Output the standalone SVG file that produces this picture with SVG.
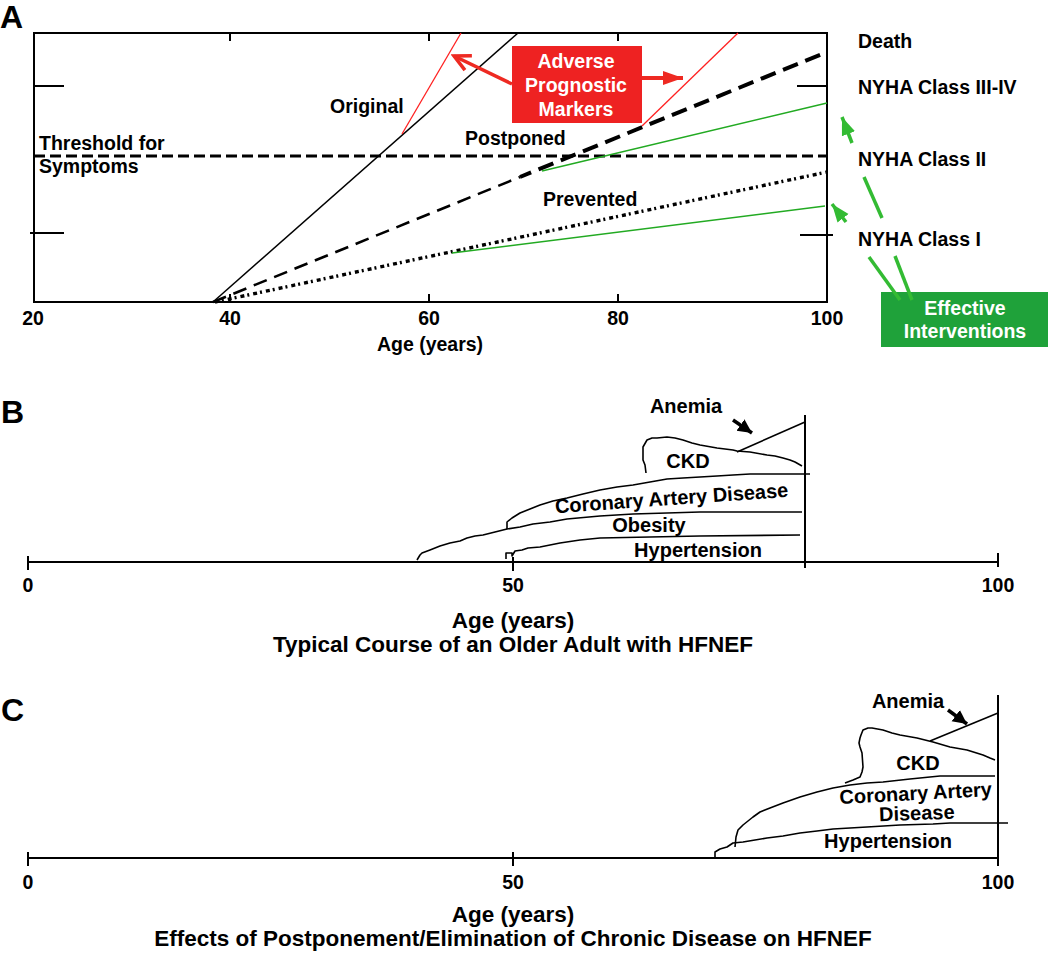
<svg xmlns="http://www.w3.org/2000/svg" width="1050" height="953" viewBox="0 0 1050 953">
<style>
text{font-family:"Liberation Sans",Arial,sans-serif;font-weight:bold;fill:#000}
.panel{font-size:32px}
.la{font-size:19.5px}
.lb{font-size:20px}
.cap{font-size:22.5px}
.num{font-size:19.5px}
.w{fill:#fff}
.ax{stroke:#000;stroke-width:2;fill:none}
.thin{stroke:#000;stroke-width:1.5;fill:none}
.red{stroke:#ff2020;stroke-width:1.3;fill:none}
.grn{stroke:#22aa22;stroke-width:1.5;fill:none}
.garr{stroke:#33bb33;stroke-width:3.5;fill:none}
.curve{stroke:#000;stroke-width:1.6;fill:none;stroke-linejoin:round}
</style>
<defs>
<marker id="gh" markerUnits="userSpaceOnUse" markerWidth="20" markerHeight="20" viewBox="0 0 20 20" refX="18" refY="10" orient="auto"><path d="M0,3 L18,10 L0,17 Z" fill="#33bb33"/></marker>
<marker id="rh" markerUnits="userSpaceOnUse" markerWidth="22" markerHeight="22" viewBox="0 0 22 22" refX="20" refY="11" orient="auto"><path d="M0,4 L20,11 L0,18 Z" fill="#ee2a22"/></marker>
<marker id="rv" markerUnits="userSpaceOnUse" markerWidth="22" markerHeight="22" viewBox="0 0 22 22" refX="19" refY="11" orient="auto"><path d="M3,3 L19,11 L3,19" fill="none" stroke="#ee2a22" stroke-width="3.5"/></marker>
<marker id="bh" markerUnits="userSpaceOnUse" markerWidth="16" markerHeight="16" viewBox="0 0 16 16" refX="14" refY="8" orient="auto"><path d="M0,1 L14,8 L0,15 Z" fill="#000"/></marker>
</defs>

<!-- Panel A -->
<g id="panelA">
<text class="panel" x="0" y="28">A</text>
<rect class="ax" x="34" y="33" width="793" height="269"/>
<g class="ax">
<line x1="230" y1="33" x2="230" y2="41"/>
<line x1="429" y1="33" x2="429" y2="41"/>
<line x1="618" y1="33" x2="618" y2="41"/>
<line x1="230" y1="294" x2="230" y2="302"/>
<line x1="429" y1="294" x2="429" y2="302"/>
<line x1="618" y1="294" x2="618" y2="302"/>
<line x1="34" y1="86" x2="64" y2="86"/>
<line x1="30" y1="233" x2="64" y2="233"/>
<line x1="797" y1="86" x2="827" y2="86"/>
<line x1="800" y1="235" x2="833" y2="235"/>
</g>
<g text-anchor="middle">
<text class="num" x="33" y="325">20</text>
<text class="num" x="230" y="325">40</text>
<text class="num" x="429" y="325">60</text>
<text class="num" x="618" y="325">80</text>
<text class="num" x="827" y="325">100</text>
</g>
<text class="la" x="430" y="351" text-anchor="middle">Age (years)</text>
</g>

<g id="curvesA">
<line x1="34" y1="156" x2="827" y2="156" stroke="#000" stroke-width="2.8" stroke-dasharray="11,5"/>
<line x1="213" y1="302" x2="518" y2="33" class="thin" stroke-width="1.3"/>
<line x1="402" y1="134" x2="461" y2="33" class="red"/>
<line x1="213" y1="302" x2="520" y2="177" stroke="#000" stroke-width="2.6" stroke-dasharray="14,8"/>
<line x1="520" y1="177" x2="827" y2="52" stroke="#000" stroke-width="4" stroke-dasharray="16,8" stroke-dashoffset="4"/>
<line x1="642" y1="126" x2="738" y2="33" class="red"/>
<line x1="542" y1="171" x2="827" y2="103" class="grn"/>
<line x1="215" y1="302" x2="827" y2="172" stroke="#000" stroke-width="3.4" stroke-dasharray="4,3,2,4"/>
<line x1="452" y1="253" x2="825" y2="206" class="grn"/>
</g>

<g id="labelsA">
<text class="la" x="39" y="150">Threshold for</text>
<text class="la" x="39" y="173">Symptoms</text>
<text class="la" x="330" y="113">Original</text>
<text class="la" x="465" y="145">Postponed</text>
<text class="la" x="543" y="206">Prevented</text>
<text class="la" x="858" y="48">Death</text>
<text class="la" x="858" y="94">NYHA Class III-IV</text>
<text class="la" x="858" y="166">NYHA Class II</text>
<text class="la" x="858" y="246">NYHA Class I</text>
</g>

<g id="adverse">
<rect x="512" y="46" width="130" height="77" fill="#ee2222"/>
<text class="la w" x="576" y="68" text-anchor="middle">Adverse</text>
<text class="la w" x="576" y="92" text-anchor="middle">Prognostic</text>
<text class="la w" x="576" y="116" text-anchor="middle">Markers</text>
</g>

<g id="effective">
<rect x="881" y="292" width="167" height="55" fill="#1fa23a"/>
<text class="la w" x="965" y="315" text-anchor="middle">Effective</text>
<text class="la w" x="965" y="338" text-anchor="middle">Interventions</text>
</g>

<g id="connectorsA">
<line x1="512" y1="84" x2="454" y2="56" stroke="#ee2a22" stroke-width="3.5" marker-end="url(#rv)"/>
<line x1="642" y1="78" x2="683" y2="78" stroke="#ee2a22" stroke-width="4" marker-end="url(#rh)"/>
<line class="garr" x1="912" y1="300" x2="895" y2="256"/>
<line class="garr" x1="882" y1="218" x2="864" y2="177"/>
<line class="garr" x1="852" y1="143" x2="842" y2="117" marker-end="url(#gh)"/>
<line class="garr" x1="900" y1="300" x2="869" y2="257"/>
<line class="garr" x1="846" y1="222" x2="832" y2="204" marker-end="url(#gh)"/>
</g>

<!-- Panel B -->
<g id="panelB">
<text class="panel" x="1" y="423">B</text>
<line class="ax" x1="28" y1="562" x2="998" y2="562"/>
<line class="ax" x1="28" y1="556" x2="28" y2="570"/>
<line class="ax" x1="513" y1="557" x2="513" y2="571"/>
<line class="ax" x1="998" y1="553" x2="998" y2="567"/>
<line class="ax" x1="805" y1="415" x2="805" y2="568" stroke-width="1.6"/>
<text class="num" x="28" y="592" text-anchor="middle">0</text>
<text class="num" x="513" y="592" text-anchor="middle">50</text>
<text class="num" x="998" y="592" text-anchor="middle">100</text>
<text class="cap" x="513" y="628" text-anchor="middle">Age (years)</text>
<text class="cap" x="513" y="652" text-anchor="middle">Typical Course of an Older Adult with HFNEF</text>
</g>
<g id="curvesB">
<path class="curve" d="M506,559 L506,553 L512,553 L512,556 L515,551 L522,550 L528,548 L540,547 L550,545 L560,543 L580,540 L600,538 L650,537 L700,536 L800,535"/>
<path class="curve" d="M417,560 L420,555 L422,553 L430,550 L440,546 L450,543 L460,541 L467,538 L475,536 L483,535 L495,532 L507,529 L520,527 L533,524 L550,522 L567,519 L600,516 L633,514 L667,513 L700,512 L802,512"/>
<path class="curve" d="M507,529 L507,522 L512,518 L520,513 L530,509 L540,505 L553,501 L567,498 L583,494 L600,490 L617,487 L633,485 L650,482 L667,479 L683,478 L700,477 L717,476 L733,475 L750,474 L810,474"/>
<path class="curve" d="M646,473 L645,465 L643,460 L643,447 L647,440 L652,438 L657,438 L667,437 L675,438 L683,440 L692,443 L700,445 L717,448 L733,450 L737,451 L750,452 L767,455 L775,456 L783,458 L790,460 L795,462 L802,466"/>
<line class="curve" x1="737" y1="452" x2="805" y2="422"/>
<line x1="733" y1="420" x2="752" y2="433" stroke="#000" stroke-width="3.5" marker-end="url(#bh)"/>
</g>
<g id="labelsB">
<text class="lb" x="686" y="413" text-anchor="middle">Anemia</text>
<text class="lb" x="688" y="468" text-anchor="middle">CKD</text>
<text class="lb" x="672" y="505" text-anchor="middle" transform="rotate(-4 672 505)">Coronary Artery Disease</text>
<text class="lb" x="649" y="532" text-anchor="middle">Obesity</text>
<text class="lb" x="698" y="557" text-anchor="middle">Hypertension</text>
</g>

<!-- Panel C -->
<g id="panelC">
<text class="panel" x="1" y="721">C</text>
<line class="ax" x1="28" y1="858" x2="998" y2="858"/>
<line class="ax" x1="28" y1="852" x2="28" y2="866"/>
<line class="ax" x1="513" y1="852" x2="513" y2="866"/>
<line class="ax" x1="998" y1="695" x2="998" y2="866" stroke-width="1.6"/>
<text class="num" x="28" y="889" text-anchor="middle">0</text>
<text class="num" x="513" y="889" text-anchor="middle">50</text>
<text class="num" x="998" y="889" text-anchor="middle">100</text>
<text class="cap" x="513" y="922" text-anchor="middle">Age (years)</text>
<text class="cap" x="513" y="946" text-anchor="middle">Effects of Postponement/Elimination of Chronic Disease on HFNEF</text>
</g>
<g id="curvesC">
<path class="curve" d="M715,858 L715,852 L720,849 L727,847 L733,843 L743,842 L755,840 L767,838 L783,836 L800,833 L817,831 L833,829 L850,828 L867,827 L900,825 L933,824 L950,823 L1008,823"/>
<path class="curve" d="M735,847 L736,837 L738,830 L743,825 L748,821 L753,817 L760,812 L770,808 L783,803 L800,797 L817,792 L833,788 L850,785 L867,783 L883,782 L910,779 L940,776 L995,776"/>
<path class="curve" d="M845,783 L853,780 L860,777 L862,772 L863,767 L862,753 L860,747 L859,743 L860,738 L861,735 L863,730 L868,728 L872,728 L883,730 L892,733 L900,735 L917,738 L933,742 L950,747 L967,750 L983,755 L990,758 L995,760"/>
<line class="curve" x1="930" y1="741" x2="998" y2="713"/>
<line x1="948" y1="710" x2="967" y2="724" stroke="#000" stroke-width="3.5" marker-end="url(#bh)"/>
</g>
<g id="labelsC">
<text class="lb" x="908" y="708" text-anchor="middle">Anemia</text>
<text class="lb" x="918" y="770" text-anchor="middle">CKD</text>
<text class="lb" x="916" y="800" text-anchor="middle" transform="rotate(-3 916 800)">Coronary Artery</text>
<text class="lb" x="917" y="820" text-anchor="middle" transform="rotate(-2 917 820)">Disease</text>
<text class="lb" x="888" y="848" text-anchor="middle">Hypertension</text>
</g>
</svg>
